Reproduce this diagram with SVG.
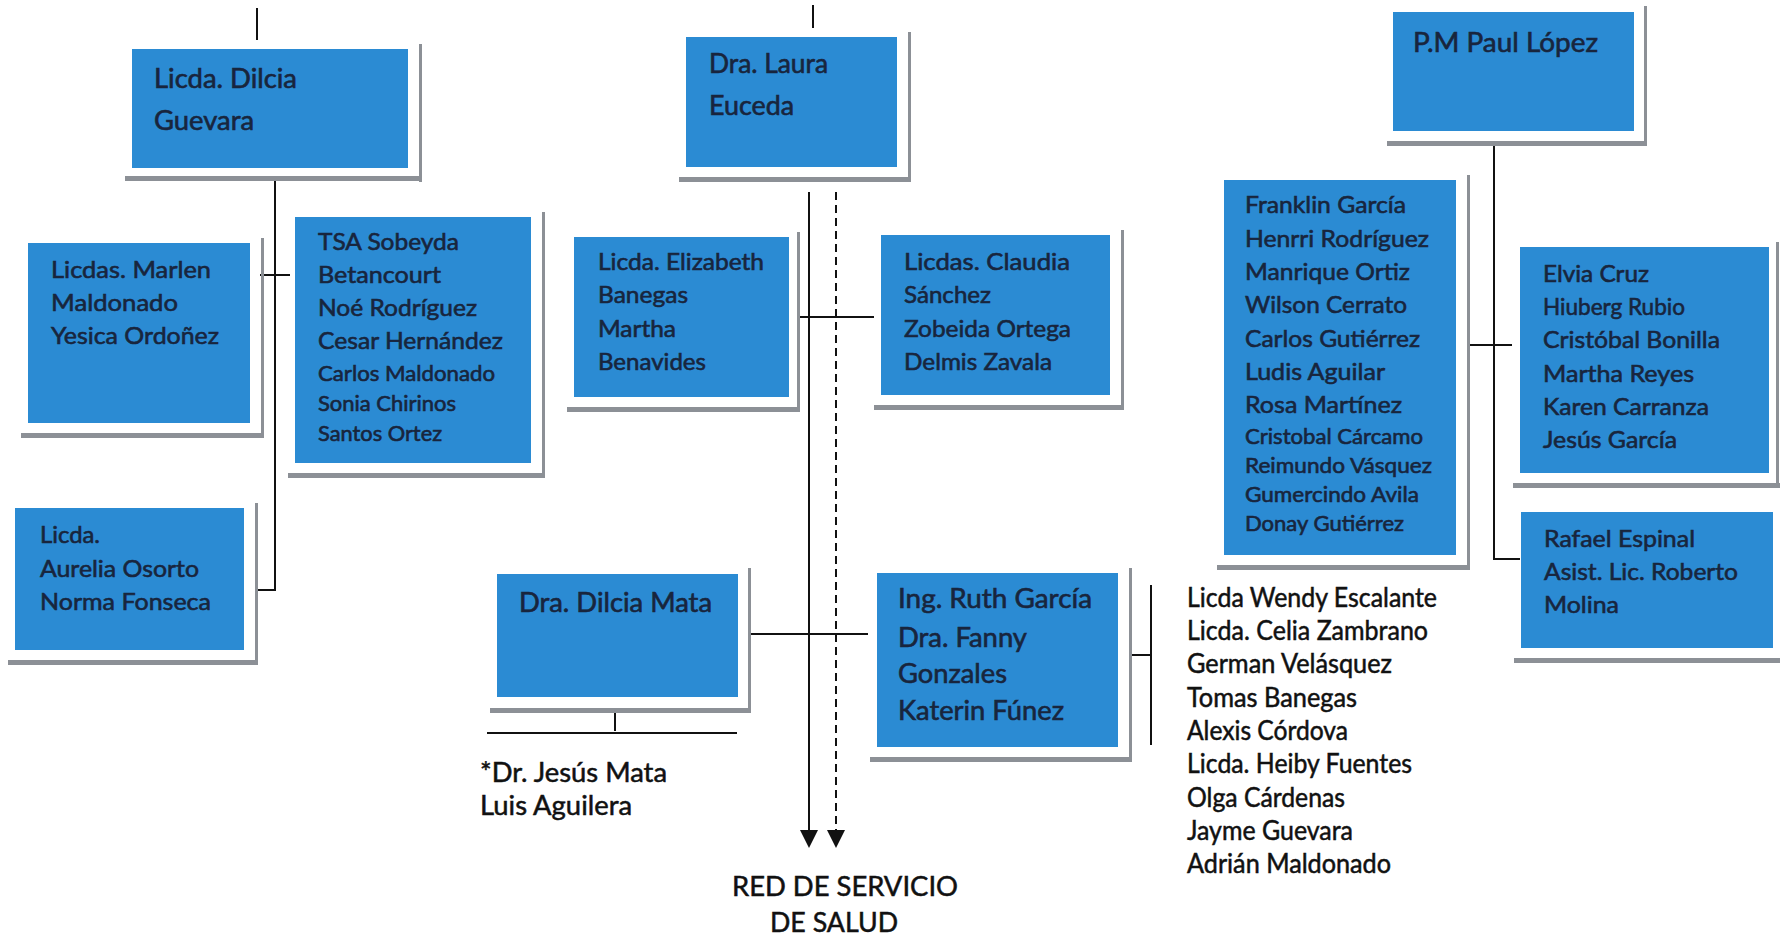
<svg xmlns="http://www.w3.org/2000/svg" width="1780" height="940" viewBox="0 0 1780 940">
<style>
.bg{fill:#ffffff}
.box{fill:#2b8bd3}
.sh{fill:#8c9096}
.t{font-family:Lato,'Open Sans','Liberation Sans',sans-serif;font-size:24px;fill:#18253d;stroke:#18253d;stroke-width:0.6}
.tl{font-size:26px}
.ts{font-size:21px}
.o{font-family:Lato,'Open Sans','Liberation Sans',sans-serif;font-size:26px;fill:#111111;stroke:#111111;stroke-width:0.5}
.ln{stroke:#111111;stroke-width:2;fill:none}
.dash{stroke:#111111;stroke-width:2;fill:none;stroke-dasharray:8 5}
.arr{fill:#111111}
</style>
<rect class="bg" x="0" y="0" width="1780" height="940"/>

<g id="connectors">
<line class="ln" x1="257" y1="8" x2="257" y2="40"/>
<line class="ln" x1="813" y1="5" x2="813" y2="28"/>
<polyline class="ln" points="275,180 275,590 255,590"/>
<line class="ln" x1="260" y1="275" x2="290" y2="275"/>
<line class="ln" x1="809" y1="192" x2="809" y2="831"/>
<path class="arr" d="M800 830 L818 830 L809 848 Z"/>
<line class="dash" x1="836" y1="192" x2="836" y2="831"/>
<path class="arr" d="M827 830 L845 830 L836 848 Z"/>
<line class="ln" x1="799" y1="317" x2="874" y2="317"/>
<line class="ln" x1="749" y1="634" x2="868" y2="634"/>
<line class="ln" x1="615" y1="711" x2="615" y2="731"/>
<line class="ln" x1="487" y1="733" x2="737" y2="733"/>
<line class="ln" x1="1151" y1="585" x2="1151" y2="745"/>
<line class="ln" x1="1131" y1="655" x2="1151" y2="655"/>
<polyline class="ln" points="1494,143 1494,559 1520,559"/>
<line class="ln" x1="1468" y1="345" x2="1512" y2="345"/>
</g>

<g id="n-guevara">
<rect class="sh" x="419" y="44" width="3" height="138"/>
<rect class="sh" x="125" y="176" width="297" height="5"/>
<rect class="box" x="132" y="49" width="276" height="119"/>
<text class="t tl" x="154" y="88" textLength="143" lengthAdjust="spacingAndGlyphs">Licda. Dilcia</text>
<text class="t tl" x="154" y="130" textLength="100" lengthAdjust="spacingAndGlyphs">Guevara</text>
</g>

<g id="n-marlen">
<rect class="sh" x="261" y="238" width="3" height="199"/>
<rect class="sh" x="21" y="433" width="243" height="5"/>
<rect class="box" x="28" y="243" width="222" height="180"/>
<text class="t" x="51" y="278" textLength="160" lengthAdjust="spacingAndGlyphs">Licdas. Marlen</text>
<text class="t" x="51" y="311" textLength="127" lengthAdjust="spacingAndGlyphs">Maldonado</text>
<text class="t" x="51" y="344" textLength="168" lengthAdjust="spacingAndGlyphs">Yesica Ordoñez</text>
</g>

<g id="n-tsa">
<rect class="sh" x="542" y="212" width="3" height="266"/>
<rect class="sh" x="288" y="473" width="257" height="5"/>
<rect class="box" x="295" y="217" width="236" height="246"/>
<text class="t" x="318" y="250" textLength="141" lengthAdjust="spacingAndGlyphs">TSA Sobeyda</text>
<text class="t" x="318" y="283" textLength="123" lengthAdjust="spacingAndGlyphs">Betancourt</text>
<text class="t" x="318" y="316" textLength="159" lengthAdjust="spacingAndGlyphs">Noé Rodríguez</text>
<text class="t" x="318" y="349" textLength="185" lengthAdjust="spacingAndGlyphs">Cesar Hernández</text>
<text class="t ts" x="318" y="381" textLength="177" lengthAdjust="spacingAndGlyphs">Carlos Maldonado</text>
<text class="t ts" x="318" y="411" textLength="138" lengthAdjust="spacingAndGlyphs">Sonia Chirinos</text>
<text class="t ts" x="318" y="441" textLength="124" lengthAdjust="spacingAndGlyphs">Santos Ortez</text>
</g>

<g id="n-aurelia">
<rect class="sh" x="255" y="503" width="3" height="162"/>
<rect class="sh" x="8" y="660" width="250" height="5"/>
<rect class="box" x="15" y="508" width="229" height="142"/>
<text class="t" x="40" y="543" textLength="60" lengthAdjust="spacingAndGlyphs">Licda.</text>
<text class="t" x="40" y="577" textLength="159" lengthAdjust="spacingAndGlyphs">Aurelia Osorto</text>
<text class="t" x="40" y="610" textLength="171" lengthAdjust="spacingAndGlyphs">Norma Fonseca</text>
</g>

<g id="n-laura">
<rect class="sh" x="908" y="32" width="3" height="150"/>
<rect class="sh" x="679" y="177" width="232" height="5"/>
<rect class="box" x="686" y="37" width="211" height="130"/>
<text class="t tl" x="709" y="73" textLength="119" lengthAdjust="spacingAndGlyphs">Dra. Laura</text>
<text class="t tl" x="709" y="115" textLength="85" lengthAdjust="spacingAndGlyphs">Euceda</text>
</g>

<g id="n-elizabeth">
<rect class="sh" x="797" y="232" width="3" height="180"/>
<rect class="sh" x="567" y="407" width="233" height="5"/>
<rect class="box" x="574" y="237" width="215" height="160"/>
<text class="t" x="598" y="270" textLength="166" lengthAdjust="spacingAndGlyphs">Licda. Elizabeth</text>
<text class="t" x="598" y="303" textLength="90" lengthAdjust="spacingAndGlyphs">Banegas</text>
<text class="t" x="598" y="337" textLength="78" lengthAdjust="spacingAndGlyphs">Martha</text>
<text class="t" x="598" y="370" textLength="108" lengthAdjust="spacingAndGlyphs">Benavides</text>
</g>

<g id="n-claudia">
<rect class="sh" x="1121" y="230" width="3" height="180"/>
<rect class="sh" x="874" y="405" width="250" height="5"/>
<rect class="box" x="881" y="235" width="229" height="160"/>
<text class="t" x="904" y="270" textLength="166" lengthAdjust="spacingAndGlyphs">Licdas. Claudia</text>
<text class="t" x="904" y="303" textLength="87" lengthAdjust="spacingAndGlyphs">Sánchez</text>
<text class="t" x="904" y="337" textLength="167" lengthAdjust="spacingAndGlyphs">Zobeida Ortega</text>
<text class="t" x="904" y="370" textLength="148" lengthAdjust="spacingAndGlyphs">Delmis Zavala</text>
</g>

<g id="n-dilcia-mata">
<rect class="sh" x="748" y="568" width="3" height="145"/>
<rect class="sh" x="490" y="708" width="261" height="5"/>
<rect class="box" x="497" y="574" width="241" height="123"/>
<text class="t tl" x="519" y="612" textLength="193" lengthAdjust="spacingAndGlyphs">Dra. Dilcia Mata</text>
</g>

<g id="n-jesus-mata">
<text class="o" x="480" y="782" textLength="187" lengthAdjust="spacingAndGlyphs">*Dr. Jesús Mata</text>
<text class="o" x="480" y="815" textLength="152" lengthAdjust="spacingAndGlyphs">Luis Aguilera</text>
</g>

<g id="n-ruth">
<rect class="sh" x="1129" y="568" width="3" height="194"/>
<rect class="sh" x="870" y="757" width="262" height="5"/>
<rect class="box" x="877" y="573" width="241" height="174"/>
<text class="t tl" x="898" y="608" textLength="194" lengthAdjust="spacingAndGlyphs">Ing. Ruth García</text>
<text class="t tl" x="898" y="647" textLength="129" lengthAdjust="spacingAndGlyphs">Dra. Fanny</text>
<text class="t tl" x="898" y="683" textLength="109" lengthAdjust="spacingAndGlyphs">Gonzales</text>
<text class="t tl" x="898" y="720" textLength="166" lengthAdjust="spacingAndGlyphs">Katerin Fúnez</text>
</g>

<g id="n-lista">
<text class="o" x="1187" y="607" textLength="250" lengthAdjust="spacingAndGlyphs">Licda Wendy Escalante</text>
<text class="o" x="1187" y="640" textLength="241" lengthAdjust="spacingAndGlyphs">Licda. Celia Zambrano</text>
<text class="o" x="1187" y="673" textLength="205" lengthAdjust="spacingAndGlyphs">German Velásquez</text>
<text class="o" x="1187" y="707" textLength="170" lengthAdjust="spacingAndGlyphs">Tomas Banegas</text>
<text class="o" x="1187" y="740" textLength="161" lengthAdjust="spacingAndGlyphs">Alexis Córdova</text>
<text class="o" x="1187" y="773" textLength="225" lengthAdjust="spacingAndGlyphs">Licda. Heiby Fuentes</text>
<text class="o" x="1187" y="807" textLength="158" lengthAdjust="spacingAndGlyphs">Olga Cárdenas</text>
<text class="o" x="1187" y="840" textLength="166" lengthAdjust="spacingAndGlyphs">Jayme Guevara</text>
<text class="o" x="1187" y="873" textLength="204" lengthAdjust="spacingAndGlyphs">Adrián Maldonado</text>
</g>

<g id="n-red">
<text class="o" x="732" y="896" font-size="31" textLength="226" lengthAdjust="spacingAndGlyphs">RED DE SERVICIO</text>
<text class="o" x="770" y="932" font-size="31" textLength="128" lengthAdjust="spacingAndGlyphs">DE SALUD</text>
</g>

<g id="n-paul">
<rect class="sh" x="1644" y="6" width="3" height="140"/>
<rect class="sh" x="1387" y="141" width="260" height="5"/>
<rect class="box" x="1393" y="12" width="241" height="119"/>
<text class="t tl" x="1413" y="52" textLength="185" lengthAdjust="spacingAndGlyphs">P.M Paul López</text>
</g>

<g id="n-franklin">
<rect class="sh" x="1467" y="175" width="3" height="395"/>
<rect class="sh" x="1217" y="565" width="253" height="5"/>
<rect class="box" x="1224" y="180" width="232" height="375"/>
<text class="t" x="1245" y="213" textLength="161" lengthAdjust="spacingAndGlyphs">Franklin García</text>
<text class="t" x="1245" y="247" textLength="184" lengthAdjust="spacingAndGlyphs">Henrri Rodríguez</text>
<text class="t" x="1245" y="280" textLength="165" lengthAdjust="spacingAndGlyphs">Manrique Ortiz</text>
<text class="t" x="1245" y="313" textLength="162" lengthAdjust="spacingAndGlyphs">Wilson Cerrato</text>
<text class="t" x="1245" y="347" textLength="175" lengthAdjust="spacingAndGlyphs">Carlos Gutiérrez</text>
<text class="t" x="1245" y="380" textLength="140" lengthAdjust="spacingAndGlyphs">Ludis Aguilar</text>
<text class="t" x="1245" y="413" textLength="157" lengthAdjust="spacingAndGlyphs">Rosa Martínez</text>
<text class="t ts" x="1245" y="444" textLength="178" lengthAdjust="spacingAndGlyphs">Cristobal Cárcamo</text>
<text class="t ts" x="1245" y="473" textLength="187" lengthAdjust="spacingAndGlyphs">Reimundo Vásquez</text>
<text class="t ts" x="1245" y="502" textLength="174" lengthAdjust="spacingAndGlyphs">Gumercindo Avila</text>
<text class="t ts" x="1245" y="531" textLength="159" lengthAdjust="spacingAndGlyphs">Donay Gutiérrez</text>
</g>

<g id="n-elvia">
<rect class="sh" x="1776" y="242" width="3" height="246"/>
<rect class="sh" x="1513" y="483" width="267" height="5"/>
<rect class="box" x="1520" y="247" width="249" height="226"/>
<text class="t" x="1543" y="282" textLength="106" lengthAdjust="spacingAndGlyphs">Elvia Cruz</text>
<text class="t" x="1543" y="315" textLength="142" lengthAdjust="spacingAndGlyphs">Hiuberg Rubio</text>
<text class="t" x="1543" y="348" textLength="177" lengthAdjust="spacingAndGlyphs">Cristóbal Bonilla</text>
<text class="t" x="1543" y="382" textLength="151" lengthAdjust="spacingAndGlyphs">Martha Reyes</text>
<text class="t" x="1543" y="415" textLength="166" lengthAdjust="spacingAndGlyphs">Karen Carranza</text>
<text class="t" x="1543" y="448" textLength="134" lengthAdjust="spacingAndGlyphs">Jesús García</text>
</g>

<g id="n-rafael">
<rect class="sh" x="1514" y="658" width="266" height="5"/>
<rect class="box" x="1521" y="512" width="252" height="136"/>
<text class="t" x="1544" y="547" textLength="151" lengthAdjust="spacingAndGlyphs">Rafael Espinal</text>
<text class="t" x="1544" y="580" textLength="194" lengthAdjust="spacingAndGlyphs">Asist. Lic. Roberto</text>
<text class="t" x="1544" y="613" textLength="75" lengthAdjust="spacingAndGlyphs">Molina</text>
</g>
</svg>
